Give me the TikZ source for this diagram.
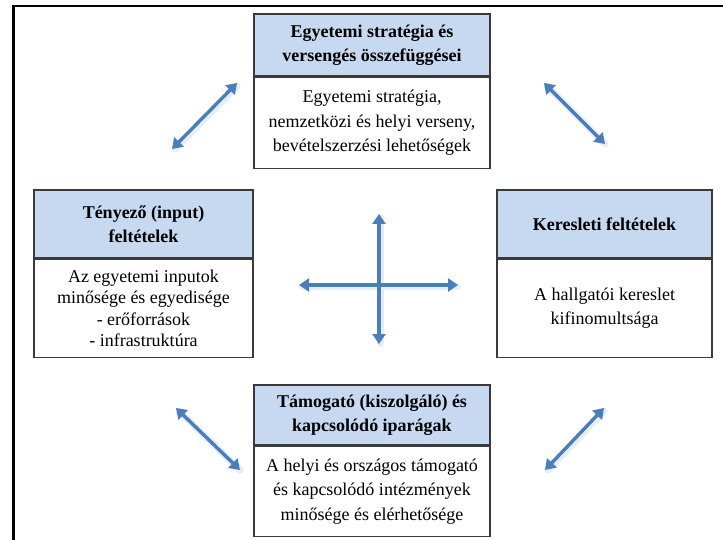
\documentclass[tikz,border=0pt]{standalone}
\usepackage{fontspec}
\setmainfont{Liberation Serif}
\usetikzlibrary{arrows.meta}
\definecolor{hdrblue}{HTML}{C6D9F1}
\definecolor{arrowblue}{HTML}{4A7EBB}
\definecolor{boxline}{HTML}{3A3A3A}
\tikzset{
  hdr/.style={draw=boxline, line width=1.3pt, fill=hdrblue, align=center, inner sep=0pt,
    font=\bfseries\fontsize{18}{24}\selectfont},
  bodybox/.style={draw=boxline, line width=1.3pt, fill=white, align=center, inner sep=0pt,
    font=\fontsize{18}{24.5}\selectfont},
  dblarrow/.style={draw=arrowblue, line width=3.4pt,
    {Triangle[length=10pt,width=13pt]}-{Triangle[length=10pt,width=13pt]}},
  glow/.style={draw=arrowblue!14, line width=7pt, line cap=round, shorten <=2pt, shorten >=2pt},
  frameline/.style={draw=black, line width=2.6pt}
}
\begin{document}
\begin{tikzpicture}[x=1pt,y=-1pt]
\useasboundingbox (0,0) rectangle (723,540);
% frame
\coordinate (fbl) at (13.3,541);
\coordinate (ftl) at (13.3,6);
\coordinate (ftr) at (724,6);
\draw[frameline] (fbl) -- (ftl) -- (ftr);

% top box
\node[hdr, minimum width=236pt, minimum height=62pt] (th) at (372,45)
  {Egyetemi stratégia és\\versengés összefüggései};
\node[bodybox, minimum width=236pt, minimum height=91pt, anchor=north] (tb) at (th.south)
  {Egyetemi stratégia,\\nemzetközi és helyi verseny,\\bevételszerzési lehetőségek};

% left box
\node[hdr, minimum width=219pt, minimum height=68pt] (lh) at (143.5,224)
  {Tényező (input)\\feltételek};
\node[bodybox, minimum width=219pt, minimum height=98pt, anchor=north,
  font=\fontsize{18}{21.5}\selectfont] (lb) at (lh.south)
  {Az egyetemi inputok\\minősége és egyedisége\\- erőforrások\\- infrastruktúra};

% right box
\node[hdr, minimum width=215pt, minimum height=68pt] (rh) at (604.5,224)
  {Keresleti feltételek};
\node[bodybox, minimum width=215pt, minimum height=98pt, anchor=north] (rb) at (rh.south)
  {A hallgatói kereslet\\kifinomultsága};

% bottom box
\node[hdr, minimum width=236pt, minimum height=60pt] (bh) at (372,415)
  {Támogató (kiszolgáló) és\\kapcsolódó iparágak};
\node[bodybox, minimum width=236pt, minimum height=90pt, anchor=north] (bb) at (bh.south)
  {A helyi és országos támogató\\és kapcsolódó intézmények\\minősége és elérhetősége};

% arrow end points
\coordinate (tl1) at (172,149);
\coordinate (tl2) at (237,83);
\coordinate (tr1) at (544,83);
\coordinate (tr2) at (605,144);
\coordinate (bl1) at (176,408);
\coordinate (bl2) at (240,470);
\coordinate (br1) at (604,408);
\coordinate (br2) at (545,470);
\coordinate (cu) at (379,214);
\coordinate (cd) at (379,344);
\coordinate (cl) at (299,285);
\coordinate (cr) at (458,285);

% glow
\foreach \a/\b in {tl1/tl2,tr1/tr2,bl1/bl2,br1/br2,cu/cd,cl/cr}
  \draw[glow] ([shift={(1.5,1.5)}]\a) -- ([shift={(1.5,1.5)}]\b);

% arrows
\draw[dblarrow] (tl1) -- (tl2);
\draw[dblarrow] (tr1) -- (tr2);
\draw[dblarrow] (bl1) -- (bl2);
\draw[dblarrow] (br1) -- (br2);
\draw[dblarrow] (cu) -- (cd);
\draw[dblarrow] (cl) -- (cr);
\end{tikzpicture}
\end{document}
